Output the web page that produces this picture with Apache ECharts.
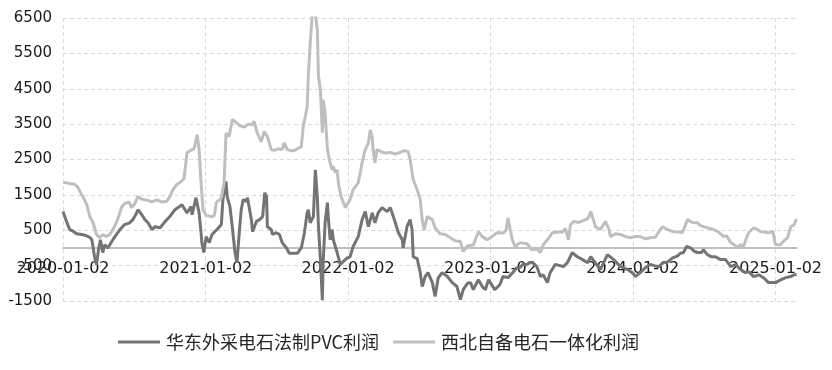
<!DOCTYPE html>
<html>
<head>
<meta charset="utf-8">
<script src="https://cdn.jsdelivr.net/npm/echarts@6/dist/echarts.min.js"></script>
<style>
html,body{margin:0;padding:0;background:#fff;}
#chart{width:832px;height:370px;}
</style>
</head>
<body>
<div id="chart"></div>
<script>
// ---- data ----
const seriesNames = ['华东外采电石法制PVC利润', '西北自备电石一体化利润'];
const xTickLabels = ['2020-01-02', '2021-01-02', '2022-01-02', '2023-01-02', '2024-01-02', '2025-01-02'];
const yTickValues = [-1500, -500, 500, 1500, 2500, 3500, 4500, 5500, 6500];

const darkDates = [
'2020-01-02','2020-01-11','2020-01-19','2020-01-27','2020-02-06','2020-02-19','2020-03-01','2020-03-11','2020-03-16','2020-03-18',
'2020-03-23','2020-03-28','2020-04-02','2020-04-07','2020-04-13','2020-04-18','2020-04-26','2020-05-06','2020-05-14','2020-05-27',
'2020-06-08','2020-06-21','2020-06-29','2020-07-07','2020-07-12','2020-07-22','2020-07-30','2020-08-07','2020-08-17','2020-08-25',
'2020-09-07','2020-09-20','2020-10-02','2020-10-15','2020-10-23','2020-11-02','2020-11-07','2020-11-15','2020-11-25','2020-11-28',
'2020-12-08','2020-12-11','2020-12-16','2020-12-21','2020-12-23','2020-12-28',
'2021-01-03','2021-01-11','2021-01-18','2021-01-31','2021-02-11','2021-02-15','2021-02-23','2021-02-26','2021-03-05','2021-03-11',
'2021-03-18','2021-03-23','2021-03-29','2021-04-03','2021-04-08','2021-04-16','2021-04-19','2021-04-29','2021-05-02','2021-05-12',
'2021-05-20','2021-05-28','2021-06-02','2021-06-07','2021-06-09','2021-06-19','2021-06-22','2021-07-02','2021-07-10','2021-07-17',
'2021-07-28','2021-08-04','2021-08-15','2021-08-25','2021-09-04','2021-09-12','2021-09-19','2021-09-22','2021-09-27','2021-10-05',
'2021-10-10','2021-10-15','2021-10-18','2021-10-23','2021-10-28','2021-10-30','2021-11-04','2021-11-10','2021-11-12','2021-11-17',
'2021-11-22','2021-11-25','2021-12-05','2021-12-13','2021-12-21','2021-12-31',
'2022-01-07','2022-01-15','2022-01-28','2022-02-07','2022-02-15','2022-02-23','2022-03-05','2022-03-12','2022-03-20','2022-03-30',
'2022-04-12','2022-04-20','2022-04-28','2022-05-11','2022-05-21','2022-05-23','2022-06-02','2022-06-10','2022-06-15','2022-06-18',
'2022-06-28','2022-07-06','2022-07-11','2022-07-19','2022-07-26','2022-08-06','2022-08-13','2022-08-21','2022-08-31','2022-09-13',
'2022-09-26','2022-10-08','2022-10-17','2022-10-24','2022-11-04','2022-11-12','2022-11-19','2022-12-02','2022-12-12','2022-12-20',
'2022-12-28',
'2023-01-03','2023-01-13','2023-01-26','2023-02-03','2023-02-16','2023-02-28','2023-03-10','2023-03-18','2023-03-26','2023-04-05',
'2023-04-13','2023-04-21','2023-05-01','2023-05-10','2023-05-17','2023-05-28','2023-06-04','2023-06-17','2023-06-30','2023-07-08',
'2023-07-18','2023-07-31','2023-08-13','2023-08-26','2023-09-08','2023-09-16','2023-09-28','2023-10-11','2023-10-22','2023-10-29',
'2023-11-14','2023-12-02','2023-12-20',
'2024-01-03','2024-01-08','2024-01-21','2024-02-03','2024-02-16','2024-02-26','2024-03-08','2024-03-20','2024-03-31','2024-04-13',
'2024-04-25','2024-05-03','2024-05-11','2024-05-19','2024-05-24','2024-05-29','2024-06-08','2024-06-16','2024-06-26','2024-07-01',
'2024-07-11','2024-07-22','2024-08-01','2024-08-14','2024-08-27','2024-09-09','2024-09-22','2024-10-04','2024-10-17','2024-10-25',
'2024-11-07','2024-11-20','2024-12-03','2024-12-15','2024-12-26',
'2025-01-02','2025-01-15','2025-01-28','2025-02-10','2025-02-18','2025-02-25'
];
const darkValues = [
1030,750,520,480,400,380,350,300,230,90,
-250,-470,-50,230,-130,90,0,180,320,520,
660,710,800,950,1080,940,800,710,520,600,
570,750,890,1080,1140,1220,1170,990,1170,940,
1420,1370,990,430,150,-130,
320,150,380,520,660,1370,1880,1450,1170,600,
-130,-420,430,1080,1370,1310,1420,800,460,750,
800,890,1560,1450,600,520,380,430,380,150,
0,-150,-150,-150,0,430,990,1080,710,890,
2210,1450,600,-330,-1480,-420,710,1280,890,230,
520,230,-130,-470,-380,-280,
-250,40,320,800,1030,600,990,710,990,1140,
1030,1140,890,430,230,0,600,800,520,-250,
-300,-700,-1090,-800,-700,-980,-1370,-850,-700,-800,
-980,-1090,-1460,-1180,-1000,-980,-1180,-900,-1090,-1180,
-900,
-1000,-1180,-1040,-810,-840,-700,-560,-560,-470,-470,
-420,-420,-530,-810,-760,-980,-700,-470,-500,-530,
-420,-130,-250,-330,-420,-250,-420,-610,-350,-190,
-330,-530,-610,
-720,-810,-700,-560,-470,-500,-530,-420,-400,-280,
-230,-150,-130,40,60,0,-100,-130,-130,-50,
-190,-250,-250,-330,-330,-530,-470,-610,-700,-670,
-810,-760,-850,-980,-980,
-980,-900,-840,-810,-760,-760
];

const lightDates = [
'2020-01-02','2020-01-19','2020-02-01','2020-02-09','2020-02-14','2020-02-22','2020-03-03','2020-03-11','2020-03-18','2020-03-23',
'2020-03-28','2020-04-05','2020-04-13','2020-04-21','2020-05-01','2020-05-09','2020-05-21','2020-06-01','2020-06-08','2020-06-19',
'2020-06-26','2020-07-04','2020-07-12','2020-07-22','2020-08-04','2020-08-17','2020-08-30','2020-09-11','2020-09-24','2020-10-02',
'2020-10-10','2020-10-20','2020-10-28','2020-11-07','2020-11-15','2020-11-23','2020-12-03','2020-12-11','2020-12-16','2020-12-21',
'2020-12-26',
'2021-01-03','2021-01-11','2021-01-18','2021-01-24','2021-01-29','2021-02-05','2021-02-11','2021-02-18','2021-02-23','2021-03-03',
'2021-03-11','2021-03-21','2021-03-31','2021-04-11','2021-04-21','2021-05-01','2021-05-06','2021-05-14','2021-05-24','2021-06-01',
'2021-06-09','2021-06-19','2021-06-27','2021-07-07','2021-07-17','2021-07-22','2021-07-30','2021-08-09','2021-08-19','2021-08-27',
'2021-09-04','2021-09-09','2021-09-14','2021-09-19','2021-09-22','2021-09-27','2021-10-02','2021-10-10','2021-10-15','2021-10-18',
'2021-10-23','2021-10-28','2021-10-30','2021-11-04','2021-11-10','2021-11-15','2021-11-22','2021-11-25','2021-11-30','2021-12-05',
'2021-12-08','2021-12-15','2021-12-26',
'2022-01-02','2022-01-07','2022-01-15','2022-01-28','2022-02-07','2022-02-15','2022-02-23','2022-02-28','2022-03-05','2022-03-07',
'2022-03-12','2022-03-17','2022-03-28','2022-04-07','2022-04-20','2022-05-03','2022-05-15','2022-05-26','2022-06-05','2022-06-10',
'2022-06-18','2022-06-28','2022-07-06','2022-07-11','2022-07-16','2022-07-24','2022-08-06','2022-08-13','2022-08-26','2022-09-08',
'2022-09-21','2022-10-04','2022-10-17','2022-10-24','2022-11-04','2022-11-19','2022-12-02','2022-12-12','2022-12-25',
'2023-01-06','2023-01-19','2023-02-04','2023-02-11','2023-02-16','2023-02-22','2023-02-27','2023-03-06','2023-03-19','2023-04-06',
'2023-04-17','2023-04-30','2023-05-10','2023-05-18','2023-05-28','2023-06-10','2023-06-25','2023-07-06','2023-07-13','2023-07-21',
'2023-07-26','2023-08-03','2023-08-16','2023-09-03','2023-09-10','2023-09-16','2023-09-23','2023-09-28','2023-10-11','2023-10-24',
'2023-11-01','2023-11-06','2023-11-19','2023-12-02','2023-12-15','2023-12-27',
'2024-01-08','2024-01-21','2024-02-03','2024-02-16','2024-02-29','2024-03-10','2024-03-18','2024-03-31','2024-04-15','2024-04-28',
'2024-05-08','2024-05-16','2024-05-21','2024-06-03','2024-06-16','2024-06-23','2024-07-01','2024-07-14','2024-07-27','2024-08-09',
'2024-08-22','2024-08-29','2024-09-09','2024-09-19','2024-09-26','2024-10-04','2024-10-12','2024-10-20','2024-10-25','2024-11-07',
'2024-11-17','2024-11-25','2024-12-05','2024-12-13','2024-12-26',
'2025-01-02','2025-01-15','2025-01-23','2025-02-02','2025-02-10','2025-02-18','2025-02-25'
];
const lightValues = [
1860,1820,1800,1720,1600,1450,1220,880,740,570,
380,290,380,320,380,520,800,1170,1250,1300,
1140,1250,1450,1380,1350,1300,1360,1300,1320,1450,
1650,1800,1850,1950,2690,2750,2800,3200,2780,1840,
1080,
920,900,880,920,1280,1350,1420,1840,3250,3150,
3630,3550,3450,3420,3500,3480,3580,3250,3000,3290,
3150,2780,2760,2800,2780,2970,2780,2750,2760,2820,
2860,3450,3700,4000,4850,5800,6600,6600,6180,4850,
4480,3260,4190,3820,2780,2500,2210,2300,2130,2210,
1840,1450,1140,
1280,1370,1650,1840,2410,2780,2970,3340,3120,2780,
2410,2780,2720,2680,2700,2650,2700,2750,2720,2500,
1930,1650,1370,800,500,890,800,570,400,380,
290,200,180,-100,60,80,460,320,230,
320,430,420,500,850,500,230,40,150,120,
-50,-30,-130,100,230,430,450,450,550,230,
650,750,720,800,850,1030,800,600,520,750,
550,320,400,380,320,290,
320,320,260,290,300,480,600,520,460,450,
430,650,800,720,710,640,600,560,520,450,
320,350,150,80,0,100,40,300,430,570,
520,460,450,430,460,
90,90,200,290,600,650,820
];

// ---- helpers: dates -> day offset from first tick date ----
const DAY = 86400000;
function utc(s) { const p = s.split('-').map(Number); return Date.UTC(p[0], p[1] - 1, p[2]); }
const origin = utc(xTickLabels[0]);
function dayOf(s) { return Math.round((utc(s) - origin) / DAY); }
function pairs(dates, vals) { return dates.map((d, i) => [dayOf(d), vals[i]]); }
const xTickValues = xTickLabels.map(dayOf);
function xFmt(v) {
  const i = xTickValues.indexOf(Math.round(v));
  return i >= 0 ? xTickLabels[i] : '';
}

// layout
const H = 370, gridTop = 18, gridBottom = 69;
const yMin = yTickValues[0], yMax = yTickValues[yTickValues.length - 1];
const plotH = H - gridTop - gridBottom;
const zeroOffset = -(plotH * (0 - yMin) / (yMax - yMin)); // lift x axis onto the zero line

const chart = echarts.init(document.getElementById('chart'), null, { renderer: 'canvas' });
chart.setOption({
  animation: false,
  backgroundColor: '#ffffff',
  grid: { left: 63, right: 35, top: gridTop, bottom: gridBottom, containLabel: false },
  legend: {
    left: 113, top: 328,
    icon: 'rect', itemWidth: 42, itemHeight: 3, itemGap: 14,
    textStyle: { fontFamily: 'Noto Sans CJK SC', fontSize: 18, color: '#262626', padding: [0, 0, 0, 1] },
    data: seriesNames
  },
  xAxis: {
    type: 'value',
    min: 0,
    max: dayOf('2025-02-26'),
    offset: zeroOffset,
    axisLine: { show: true, onZero: false, lineStyle: { color: '#c0c0c0', width: 2 } },
    axisTick: { show: false, customValues: xTickValues },
    axisLabel: {
      customValues: xTickValues,
      formatter: xFmt,
      fontFamily: 'DejaVu Sans', fontSize: 16, color: '#1a1a1a', margin: 13,
      hideOverlap: false
    },
    splitLine: { show: true, lineStyle: { color: '#d9d9d9', type: [4, 3], width: 1 } }
  },
  yAxis: {
    type: 'value',
    min: yMin, max: yMax,
    axisLine: { show: false },
    axisTick: { show: false, customValues: yTickValues },
    axisLabel: {
      customValues: yTickValues,
      formatter: v => String(v),
      fontFamily: 'DejaVu Sans', fontSize: 15, color: '#1a1a1a', margin: 11
    },
    splitLine: { show: true, lineStyle: { color: '#d9d9d9', type: [4, 3], width: 1 } }
  },
  series: [
    {
      name: seriesNames[0], type: 'line', showSymbol: false, symbol: 'none',
      data: pairs(darkDates, darkValues),
      lineStyle: { color: '#747474', width: 3 }, itemStyle: { color: '#747474' },
      clip: true
    },
    {
      name: seriesNames[1], type: 'line', showSymbol: false, symbol: 'none',
      data: pairs(lightDates, lightValues),
      lineStyle: { color: '#bfbfbf', width: 3 }, itemStyle: { color: '#bfbfbf' },
      clip: true
    }
  ]
});
</script>
</body>
</html>
